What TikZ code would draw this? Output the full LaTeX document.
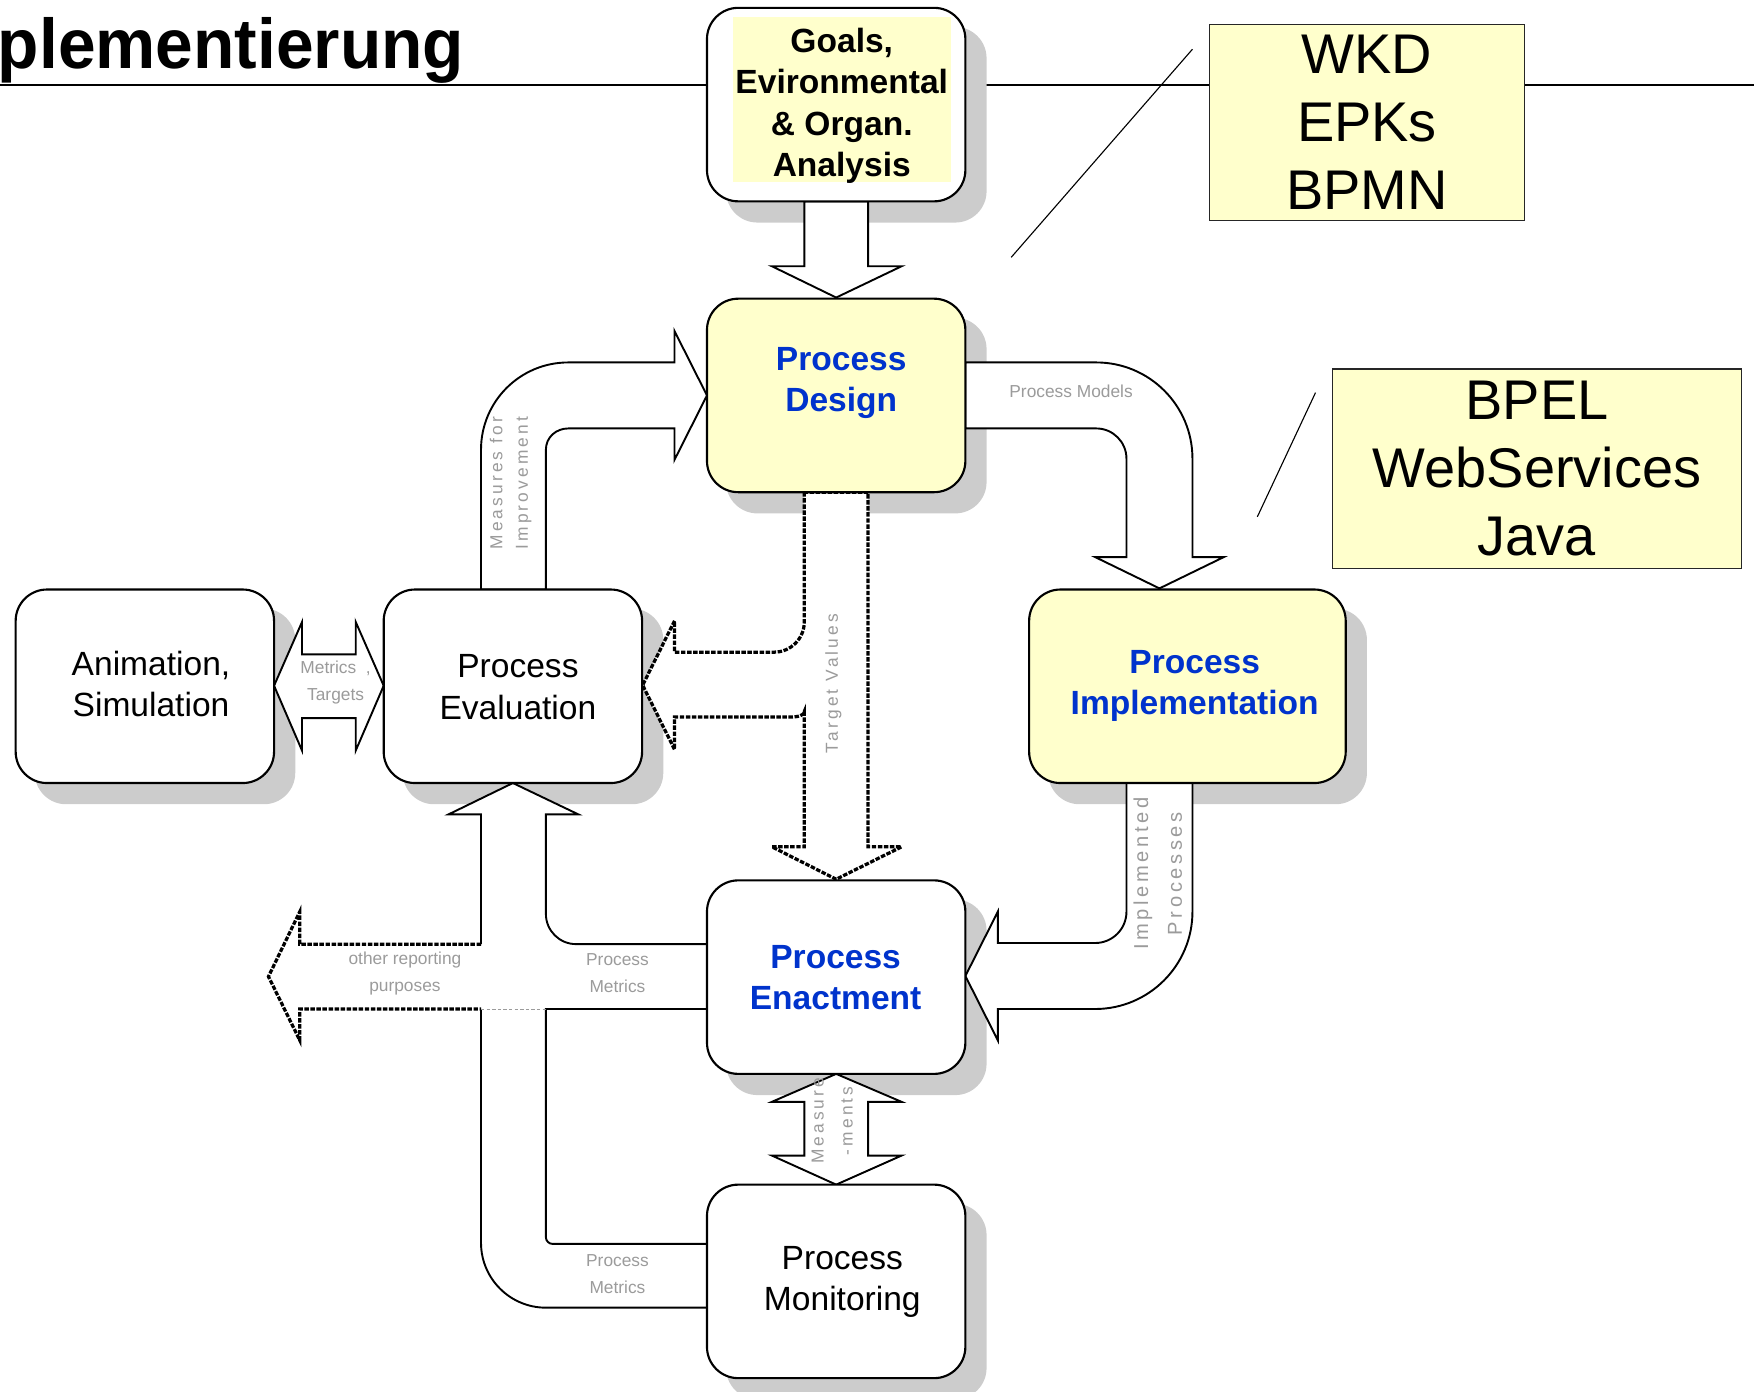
\documentclass[tikz,border=0pt]{standalone}
\usepackage{fontspec}
\setmainfont{Liberation Sans}
\newfontfamily\spacedsans[LetterSpace=18]{Liberation Sans}
\usetikzlibrary{calc}

\definecolor{paleyellow}{RGB}{255,255,204}
\definecolor{stageblue}{RGB}{0,51,204}
\definecolor{shadowgray}{RGB}{204,204,204}
\definecolor{labelgray}{RGB}{155,155,155}

\pgfdeclarelayer{back}
\pgfdeclarelayer{shadows}
\pgfdeclarelayer{arrows}
\pgfsetlayers{back,shadows,arrows,main}

\tikzset{
  stage/.style={draw, line width=1.9pt, rounded corners=28pt, fill=white,
    minimum width=231pt, minimum height=173pt, inner sep=0pt},
  yellowstage/.style={stage, fill=paleyellow},
  plaintext/.style={anchor=north, align=center, inner sep=0pt,
    font=\fontsize{30}{37}\selectfont},
  boldtext/.style={plaintext, font=\fontsize{30}{37}\selectfont\bfseries},
  bluetext/.style={boldtext, text=stageblue},
  toolbox/.style={draw=black!85, line width=1.2pt, fill=paleyellow, inner sep=0pt,
    align=center, font=\fontsize{50}{61}\selectfont},
  stageshadow/.style={fill=shadowgray, rounded corners=28pt},
  blockarrow/.style={draw, fill=white, line width=1.7pt, line join=miter},
  dotline/.style={draw, line width=2.9pt, dash pattern=on 4pt off 1.4pt},
  flowlabel/.style={text=labelgray, align=center, inner sep=0pt,
    font=\fontsize{15.5}{24}\selectfont},
  sidelabel/.style={text=labelgray, align=center, inner sep=0pt, rotate=90,
    font=\spacedsans\fontsize{15.5}{23}\selectfont},
}

\begin{document}
\begin{tikzpicture}[x=1pt, y=-1pt]
\useasboundingbox (0,0) rectangle (1568,1244);

% heading and rule
\node[anchor=base west, inner sep=0pt, font=\fontsize{63}{70}\selectfont\bfseries]
  (title) at (-2,61) {\scalebox{0.96}[1]{plementierung}};
\begin{pgfonlayer}{back}
  \coordinate (rule-l) at (0,76);
  \coordinate (rule-r) at (1568,76);
  \draw[line width=2.6pt] (rule-l) -- (rule-r);
\end{pgfonlayer}

% stages of the life cycle
\node[stage] (goals) at (747.5,93.5) {};
\fill[paleyellow] (655,15) rectangle (850,163);
\node[boldtext] (goals-t) at (752.5,25) {Goals,\\Evironmental\\\&~Organ.\\Analysis};

\node[yellowstage] (design) at (747.5,353.5) {};
\node[bluetext] (design-t) at (752,310) {Process\\Design};

\node[yellowstage, minimum width=283pt] (impl) at (1061.5,613.5) {};
\node[bluetext] (impl-t) at (1068,581) {Process\\Implementation};

\node[stage] (enact) at (747.5,873.5) {};
\node[bluetext] (enact-t) at (747,845) {Process\\Enactment};

\node[stage] (monitor) at (747.5,1145.5) {};
\node[plaintext] (monitor-t) at (753,1114) {Process\\Monitoring};

\node[stage] (eval) at (458.5,613.5) {};
\node[plaintext] (eval-t) at (463,585) {Process\\Evaluation};

\node[stage] (anim) at (129.5,613.5) {};
\node[plaintext] (anim-t) at (135,582) {Animation,\\Simulation};

% notations and platforms
\node[toolbox, minimum width=282pt, minimum height=175pt] (notations) at (1222,109.5) {WKD\\EPKs\\BPMN};
\node[toolbox, minimum width=366pt, minimum height=178pt] (platforms) at (1374,419) {BPEL\\WebServices\\Java};
\coordinate (n-a) at (1066,44);
\coordinate (n-b) at (904,230);
\coordinate (p-a) at (1176,351);
\coordinate (p-b) at (1124,462);
\draw[line width=1pt] (n-a) -- (n-b);
\draw[line width=1pt] (p-a) -- (p-b);

% drop shadows
\begin{pgfonlayer}{shadows}
  \foreach \n in {goals,design,impl,enact,monitor,eval,anim}
    \fill[stageshadow] ($(\n.south west)+(18,18)$) rectangle ($(\n.north east)+(18,18)$);
\end{pgfonlayer}

% block arrows
\begin{pgfonlayer}{arrows}
  % goals -> design
  \path[blockarrow] (719,180) -- (719,238) -- (690,238) -- (747.5,266) -- (806,238)
    -- (776,238) -- (776,180) -- cycle;
  % design -> implementation
  \path[blockarrow] (863,324) -- (980,324) .. controls (1027.5,324) and (1066,362.5) .. (1066,410)
    -- (1066,498) -- (1094,498) -- (1036.5,526) -- (979,498) -- (1007,498) -- (1007,410)
    .. controls (1007,395.1) and (994.9,383) .. (980,383) -- (863,383) -- cycle;
  % evaluation -> design
  \path[blockarrow] (430,527) -- (430,402) .. controls (430,358.9) and (464.9,324) .. (508,324)
    -- (603,324) -- (603,296) -- (632,353.5) -- (603,411) -- (603,383) -- (508,383)
    .. controls (497,383) and (488,391) .. (488,402) -- (488,527) -- cycle;
  % implementation -> enactment
  \path[blockarrow] (1007,700) -- (1007,815) .. controls (1007,830.5) and (994.5,843) .. (979,843)
    -- (892,843) -- (892,815) -- (863,872.5) -- (892,930) -- (892,902) -- (979,902)
    .. controls (1027,902) and (1066,863) .. (1066,815) -- (1066,700) -- cycle;
  % enactment <-> monitoring
  \path[blockarrow] (719,985) -- (690,985) -- (747.5,960) -- (806,985) -- (776,985)
    -- (776,1033) -- (806,1033) -- (747.5,1059) -- (690,1033) -- (719,1033) -- cycle;
  % animation <-> evaluation
  \path[blockarrow] (245,613) -- (270,556) -- (270,585) -- (318,585) -- (318,556)
    -- (343,613) -- (318,671) -- (318,642) -- (270,642) -- (270,671) -- cycle;
  % design -> enactment with branch to evaluation (target values)
  \path[fill=white, dotline] (719,440) -- (719,556) .. controls (719,570.9) and (706.9,583) .. (692,583)
    -- (603,583) -- (603,555) -- (574.5,612.5) -- (603,670) -- (603,641) -- (705,641)
    .. controls (713,641) and (719,640) .. (719,636) -- (719,757) -- (690,757) -- (747.5,786)
    -- (806,757) -- (776,757) -- (776,440) -- cycle;
  % enactment / monitoring -> evaluation, and other reporting purposes
  \fill[white] (401,728) -- (458.5,700) -- (517,728) -- (488,728) -- (488,745) -- (430,745)
    -- (430,728) -- cycle;
  \draw[line width=1.7pt, line join=miter] (430,844) -- (430,728) -- (401,728) -- (458.5,700)
    -- (517,728) -- (488,728) -- (488,817) .. controls (488,831.9) and (500.1,844) .. (515,844)
    -- (632,844);
  \draw[line width=1.7pt] (632,902) -- (488,902) -- (488,1106)
    .. controls (488,1109.3) and (490.7,1112) .. (494,1112) -- (632,1112);
  \draw[line width=1.7pt] (430,902) -- (430,1111) .. controls (430,1143) and (456,1169) .. (488,1169)
    -- (632,1169);
  \path[dotline] (430,844) -- (268,844) -- (268,815) -- (240,873) -- (268,930) -- (268,902)
    -- (430,902);
  \path[dotline, line width=2pt] (515,844) -- (632,844);
  \path[dotline, line width=2pt] (488,902) -- (632,902);
  \draw[labelgray, line width=0.8pt, dash pattern=on 3pt off 2pt] (430,902) -- (488,902);
\end{pgfonlayer}

% flow labels
\node[flowlabel] (lbl-models) at (957.5,350) {Process Models};
\node[flowlabel] (lbl-sim) at (300,610) {Metrics\ \ ,\\Targets};
\node[flowlabel] (lbl-other) at (362,870) {other reporting\\purposes};
\node[flowlabel] (lbl-enact) at (552,870) {Process\\Metrics};
\node[flowlabel] (lbl-monitor) at (552,1139) {Process\\Metrics};
\node[sidelabel] (lbl-improve) at (456.5,432) {Measures for\\Improvement};
\node[sidelabel] (lbl-target) at (745,611) {Target Values};
\node[sidelabel, font=\spacedsans\fontsize{18}{30}\selectfont] (lbl-impl) at (1035,781) {Implemented\\Processes};
\node[sidelabel, font=\spacedsans\fontsize{15.5}{26}\selectfont] (lbl-measure) at (744,1002) {Measure\\-ments};
\end{tikzpicture}
\end{document}
